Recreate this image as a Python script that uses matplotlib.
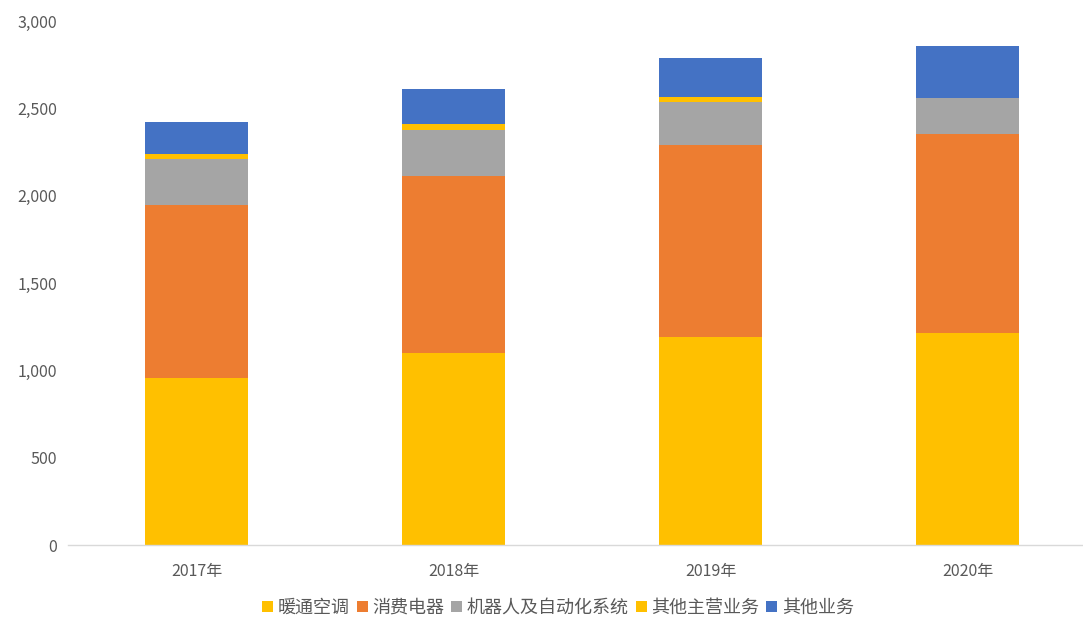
import matplotlib

matplotlib.use("Agg")
import matplotlib.pyplot as plt
import numpy as np

plt.rcParams["font.family"] = ["Noto Sans CJK SC", "DejaVu Sans"]

years = ["2017年", "2018年", "2019年", "2020年"]
hvac = [956, 1099, 1191, 1214]
consumer = [991, 1014, 1099, 1139]
robot = [263, 263, 246, 206]
other_main = [28, 34, 29, 0]
other = [184, 201, 223, 298]

series = [
    ("暖通空调", hvac, "#FFC000"),
    ("消费电器", consumer, "#ED7D31"),
    ("机器人及自动化系统", robot, "#A5A5A5"),
    ("其他主营业务", other_main, "#FFC000"),
    ("其他业务", other, "#4472C4"),
]

W, H = 1083, 621
fig = plt.figure(figsize=(W / 100, H / 100), dpi=100)
ax = fig.add_axes([68 / W, 1 - 545 / H, 1028 / W, 524 / H])

x = np.arange(len(years))
bottom = np.zeros(len(years))
handles = []
for label, vals, color in series:
    vals = np.array(vals, dtype=float)
    bars = ax.bar(x, vals, width=0.40, bottom=bottom, color=color, label=label, zorder=2)
    handles.append(bars)
    bottom += vals

ax.set_xlim(-0.5, len(years) - 0.5)
ax.set_ylim(0, 3000)
ax.set_yticks(range(0, 3001, 500))
ax.set_yticklabels([f"{v:,}" for v in range(0, 3001, 500)])
ax.set_xticks(x)
ax.set_xticklabels(years)
ax.tick_params(axis="both", length=0, colors="#595959", labelsize=11.5)
ax.tick_params(axis="y", pad=8)
ax.tick_params(axis="x", pad=13)
for side in ("top", "right", "left"):
    ax.spines[side].set_visible(False)
ax.spines["bottom"].set_color("#D9D9D9")
ax.spines["bottom"].set_linewidth(1)

leg = fig.legend(
    handles=handles,
    labels=[s[0] for s in series],
    loc="center",
    bbox_to_anchor=(558 / W, 1 - 608 / H),
    ncol=5,
    frameon=False,
    fontsize=13,
    handlelength=0.6,
    handleheight=0.6,
    handletextpad=0.25,
    columnspacing=0.4,
    labelcolor="#595959",
)

fig.savefig("out.png", dpi=100)
